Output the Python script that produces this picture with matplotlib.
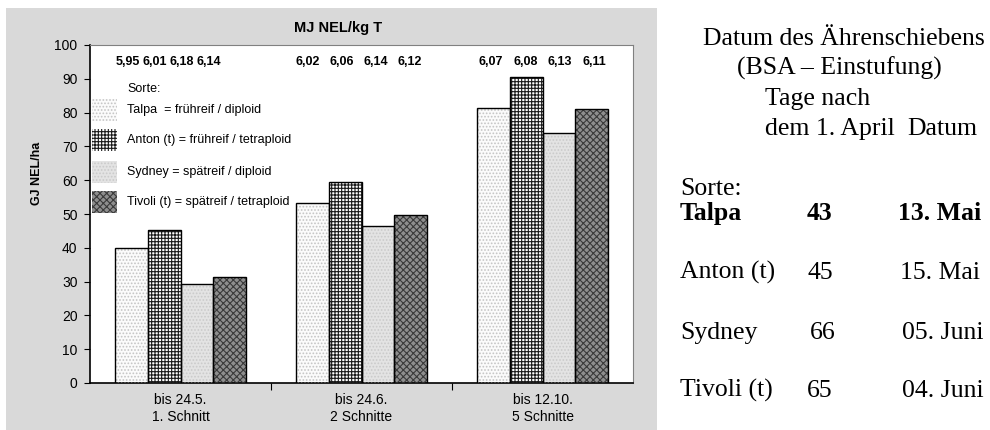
"""
Ertrag GJ NEL/ha und Energiegehalt MJ NEL/kg T von vier Weidelgras-Sorten
"""
import numpy as np
import matplotlib
matplotlib.use('Agg')
import matplotlib.pyplot as plt
from matplotlib.patches import Rectangle

# --- data ---
categories = ['bis 24.5.\n1. Schnitt', 'bis 24.6.\n2 Schnitte', 'bis 12.10.\n5 Schnitte']
sorten = ['Talpa', 'Anton (t)', 'Sydney', 'Tivoli (t)']
legend_labels = ['Talpa  = frühreif / diploid',
                 'Anton (t) = frühreif / tetraploid',
                 'Sydney = spätreif / diploid',
                 'Tivoli (t) = spätreif / tetraploid']

talpa = [40.0, 53.4, 81.5]
anton = [45.3, 59.4, 90.6]
sydney = [29.3, 46.5, 73.9]
tivoli = [31.3, 49.7, 81.1]

# MJ NEL/kg T per Schnitt-Gruppe (Talpa, Anton, Sydney, Tivoli)
mj_nel_1 = [5.95, 6.01, 6.18, 6.14]
mj_nel_2 = [6.02, 6.06, 6.14, 6.12]
mj_nel_3 = [6.07, 6.08, 6.13, 6.11]

# Datum des Ährenschiebens
tage_nach_april = [43, 45, 66, 65]
datum = ['13. Mai', '15. Mai', '05. Juni', '04. Juni']

W, H = 990, 430


def fx(px):
    return px / W


def fy(py):
    return 1 - py / H


# face, hatch, hatch colour
styles = [
    ('#fbfbfb', '.....', '#c4c4c4'),
    ('#ffffff', '+++++', '#1a1a1a'),
    ('#e3e3e3', '.....', '#cacaca'),
    ('#8e8e8e', 'xxxxx', '#3a3a3a'),
]

plt.rcParams['hatch.linewidth'] = 0.8
plt.rcParams['font.family'] = ['Liberation Sans', 'DejaVu Sans']

fig = plt.figure(figsize=(W / 100, H / 100), dpi=100)
fig.patch.set_facecolor('white')

# grey background behind the chart
fig.add_artist(Rectangle((fx(6), fy(430)), fx(657) - fx(6), fy(8) - fy(430),
                         transform=fig.transFigure, facecolor='#d9d9d9',
                         edgecolor='none', zorder=0))

ax = fig.add_axes([fx(90), fy(383), fx(633) - fx(90), fy(45) - fy(383)])
ax.set_facecolor('white')

x = np.arange(len(categories))
width = 0.182
series = [talpa, anton, sydney, tivoli]
for i, vals in enumerate(series):
    face, hatch, hcol = styles[i]
    pos = x + (i - 1.5) * width
    ax.bar(pos, vals, width, color=face, edgecolor='none', zorder=2)
    ax.bar(pos, vals, width, color='none', edgecolor=hcol, hatch=hatch,
           linewidth=0, zorder=3)
    ax.bar(pos, vals, width, color='none', edgecolor='black', linewidth=1.0, zorder=4)

# MJ NEL/kg T values above the groups
mj_groups = [mj_nel_1, mj_nel_2, mj_nel_3]
shifts = [-0.069, -0.017, 0.0]
spacing = [0.149, 0.188, 0.19]
for g, vals in enumerate(mj_groups):
    for i, v in enumerate(vals):
        ax.text(x[g] + shifts[g] + (i - 1.5) * spacing[g], 95,
                f'{v:.2f}'.replace('.', ','), ha='center', va='center',
                fontsize=9, fontweight='bold')

ax.set_xlim(-0.5, 2.5)
ax.set_ylim(0, 100)
ax.set_yticks(range(0, 101, 10))
ax.tick_params(axis='y', labelsize=10, length=4, direction='out', pad=5)
ax.set_xticks([0.5, 1.5])
ax.set_xticklabels([])
ax.tick_params(axis='x', which='major', length=5, direction='out')
ax.set_xticks(x, minor=True)
ax.set_xticklabels(categories, minor=True, fontsize=10, linespacing=1.3)
ax.tick_params(axis='x', which='minor', length=0, pad=7)
for s in ['top', 'right']:
    ax.spines[s].set_color('#808080')
ax.spines['left'].set_linewidth(1.2)
ax.spines['bottom'].set_linewidth(1.2)

fig.text(fx(338), fy(28), 'MJ NEL/kg T', ha='center', va='center',
         fontsize=10.5, fontweight='bold')
fig.text(fx(37), fy(173), 'GJ NEL/ha', ha='center', va='center',
         rotation=90, fontsize=9, fontweight='bold')

# legend inside the plot
fig.text(fx(127), fy(89), 'Sorte:', ha='left', va='center', fontsize=9)
leg_y = [110, 140, 172, 202]
for i, label in enumerate(legend_labels):
    face, hatch, hcol = styles[i]
    rect = (fx(92), fy(leg_y[i] + 11)), fx(117) - fx(92), fy(leg_y[i] - 11) - fy(leg_y[i] + 11)
    fig.add_artist(Rectangle(*rect, transform=fig.transFigure, facecolor=face,
                             edgecolor='none', zorder=5))
    fig.add_artist(Rectangle(*rect, transform=fig.transFigure, facecolor='none',
                             edgecolor=hcol, hatch=hatch, linewidth=0, zorder=6))
    fig.text(fx(127), fy(leg_y[i]), label, ha='left', va='center', fontsize=9)

# right-hand table (positions are text baselines)
serif = ['Liberation Serif', 'DejaVu Serif']
fs = 18.5
header = [(703, 45, 'Datum des Ährenschiebens'),
          (737, 75, '(BSA – Einstufung)'),
          (765, 105, 'Tage nach'),
          (765, 135, 'dem 1. April'),
          (907, 135, 'Datum')]
for px, py, t in header:
    fig.text(fx(px), fy(py), t, ha='left', va='baseline', fontsize=fs, family=serif)

fig.text(fx(680), fy(195), 'Sorte:', ha='left', va='baseline', fontsize=fs, family=serif)
row_y = [220, 279, 339, 397]
num_x = [807, 807, 810, 807]
date_x = [898, 900, 902, 902]
for i, name in enumerate(sorten):
    weight = 'bold' if i == 0 else 'normal'
    fig.text(fx(680), fy(row_y[i]), name, ha='left', va='baseline', fontsize=fs,
             family=serif, fontweight=weight)
    fig.text(fx(num_x[i]), fy(row_y[i]), str(tage_nach_april[i]), ha='left',
             va='baseline', fontsize=fs, family=serif, fontweight=weight)
    fig.text(fx(date_x[i]), fy(row_y[i]), datum[i], ha='left', va='baseline',
             fontsize=fs, family=serif, fontweight=weight)

fig.savefig('out.png', dpi=100)
